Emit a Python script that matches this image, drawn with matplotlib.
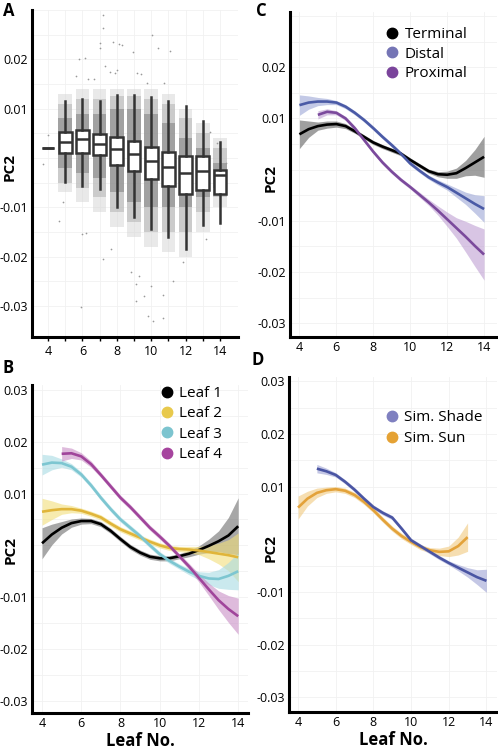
import matplotlib
matplotlib.use("Agg")
import matplotlib.pyplot as plt
from matplotlib.lines import Line2D

plt.rcParams['font.family'] = ['Open Sans', 'DejaVu Sans']

# ---- panel A: boxplots per leaf number ----
box_leaf = [4, 5, 6, 7, 8, 9, 10, 11, 12, 13, 14]
box_med = [0.0021, 0.0033, 0.0038, 0.0028, 0.0019, 0.0007, -0.0007, -0.0018, -0.0030, -0.0027, -0.0034]
box_q1 = [0.0021, 0.0009, 0.0011, 0.0005, -0.0014, -0.0026, -0.0043, -0.0056, -0.0073, -0.0065, -0.0073]
box_q3 = [0.0021, 0.0052, 0.0056, 0.0048, 0.0042, 0.0035, 0.0022, 0.0013, 0.0003, 0.0004, -0.0024]
box_wlo = [0.0021, -0.0049, -0.0056, -0.0063, -0.0100, -0.0120, -0.0144, -0.0160, -0.0184, -0.0136, -0.0132]
box_whi = [0.0021, 0.0115, 0.0119, 0.0115, 0.0127, 0.0128, 0.0123, 0.0116, 0.0106, 0.0075, 0.0032]

# extent of the jittered point cloud behind each box (outer, middle, dense core)
cloud_leaf = [5, 6, 7, 8, 9, 10, 11, 12, 13, 14]
cloud_top = [0.013, 0.014, 0.014, 0.014, 0.014, 0.014, 0.013, 0.010, 0.007, 0.004]
cloud_bot = [-0.007, -0.009, -0.011, -0.014, -0.016, -0.018, -0.019, -0.020, -0.015, -0.010]
mid_top = [0.011, 0.012, 0.012, 0.0125, 0.0125, 0.012, 0.011, 0.008, 0.005, 0.002]
mid_bot = [-0.005, -0.006, -0.008, -0.011, -0.013, -0.015, -0.015, -0.015, -0.011, -0.008]
core_top = [0.008, 0.009, 0.009, 0.010, 0.010, 0.009, 0.007, 0.004, 0.002, -0.001]
core_bot = [-0.002, -0.003, -0.004, -0.007, -0.009, -0.010, -0.010, -0.010, -0.008, -0.006]

# sparse points outside the cloud
out_x = [7.18, 7.2, 7.02, 7.05, 7.76, 8.1, 8.3, 6.15, 5.8, 8.95, 7.3, 7.6, 7.9, 8.0, 6.7, 6.3, 5.6,
         4.0, 3.7, 10.03, 10.4, 11.1, 9.2, 9.4, 9.74, 10.75, 13.4, 13.8, 14.35,
         4.66, 4.9, 5.9, 7.18, 8.8, 9.1, 9.1, 5.97, 6.2, 7.66,
         10.1, 9.6, 9.8, 10.7, 10.7, 11.28, 11.85, 13.2, 10.0, 9.3]
out_y = [0.029, 0.0263, 0.0233, 0.0222, 0.0235, 0.0231, 0.0229, 0.0203, 0.020, 0.0215, 0.0186, 0.0175, 0.0172, 0.0178, 0.016, 0.016, 0.0167,
         0.0046, -0.0013, 0.025, 0.0222, 0.0216, 0.0173, 0.0170, 0.0151, 0.0151, 0.0052, 0.003, -0.0011,
         -0.0127, -0.009, -0.0303, -0.0204, -0.0232, -0.0256, -0.029, -0.0154, -0.0152, -0.0185,
         -0.033, -0.028, -0.032, -0.0277, -0.0325, -0.0249, -0.0212, -0.0165, -0.026, -0.024]

# ---- panel B: smooths by leaf position ----
lx = [4, 4.5, 5, 5.5, 6, 6.5, 7, 7.5, 8, 8.5, 9, 9.5, 10, 10.5, 11, 11.5, 12, 12.5, 13, 13.5, 14]
lx5 = lx[2:]
leaf1 = [0.0004, 0.0021, 0.0034, 0.0043, 0.0047, 0.0047, 0.0041, 0.0028, 0.0012, -0.0003, -0.0014,
         -0.0022, -0.0025, -0.0025, -0.0021, -0.0016, -0.0009, -0.0001, 0.0008, 0.0019, 0.0037]
leaf1_se = [0.003, 0.002, 0.0012, 0.0008, 0.0006, 0.0005, 0.0005, 0.0005, 0.0005, 0.0005, 0.0005,
            0.0005, 0.0005, 0.0005, 0.0005, 0.0006, 0.0008, 0.0013, 0.002, 0.0035, 0.0055]
leaf2 = [0.0065, 0.0068, 0.0070, 0.0070, 0.0067, 0.0061, 0.0054, 0.0042, 0.0031, 0.0023, 0.0015,
         0.0007, 0.0000, -0.0005, -0.0007, -0.0008, -0.0010, -0.0013, -0.0016, -0.0019, -0.0023]
leaf2_se = [0.0026, 0.0018, 0.001, 0.0007, 0.0005, 0.0005, 0.0005, 0.0005, 0.0005, 0.0005, 0.0005,
            0.0005, 0.0005, 0.0005, 0.0005, 0.0006, 0.0008, 0.0013, 0.002, 0.003, 0.0047]
leaf3 = [0.0156, 0.0160, 0.0159, 0.0152, 0.0137, 0.0116, 0.0092, 0.0070, 0.0050, 0.0034, 0.0018,
         0.0000, -0.0017, -0.0030, -0.0041, -0.0051, -0.0059, -0.0064, -0.0065, -0.0059, -0.0050]
leaf3_se = [0.002, 0.0014, 0.0008, 0.0006, 0.0005, 0.0005, 0.0005, 0.0005, 0.0005, 0.0005, 0.0005,
            0.0005, 0.0005, 0.0005, 0.0005, 0.0006, 0.0008, 0.0012, 0.0018, 0.0026, 0.0036]
leaf4 = [0.0177, 0.0178, 0.0172, 0.0157, 0.0136, 0.0114, 0.0092, 0.0074, 0.0054, 0.0034,
         0.0017, -0.0001, -0.0021, -0.0041, -0.0063, -0.0085, -0.0106, -0.0123, -0.0137]
leaf4_se = [0.0014, 0.001, 0.0007, 0.0006, 0.0005, 0.0005, 0.0005, 0.0005, 0.0005, 0.0005,
            0.0005, 0.0005, 0.0005, 0.0006, 0.0008, 0.0012, 0.0018, 0.0026, 0.0035]

# ---- panel C: smooths by leaflet type ----
term = [0.0069, 0.0079, 0.0085, 0.0088, 0.0089, 0.0085, 0.0075, 0.0064, 0.0053, 0.0045, 0.0038,
        0.0031, 0.0019, 0.0008, -0.0003, -0.0009, -0.0010, -0.0007, 0.0003, 0.0014, 0.0025]
term_se = [0.0028, 0.0016, 0.0008, 0.0007, 0.0006, 0.0005, 0.0004, 0.0004, 0.0004, 0.0004, 0.0004,
           0.0004, 0.0004, 0.0004, 0.0004, 0.0005, 0.0007, 0.001, 0.0015, 0.0025, 0.004]
dist = [0.0126, 0.0131, 0.0133, 0.0133, 0.0131, 0.0123, 0.0111, 0.0097, 0.0081, 0.0064, 0.0048,
        0.0031, 0.0012, -0.0002, -0.0015, -0.0025, -0.0034, -0.0045, -0.0056, -0.0067, -0.0077]
dist_se = [0.002, 0.0013, 0.0008, 0.0006, 0.0004, 0.0004, 0.0004, 0.0004, 0.0004, 0.0004, 0.0004,
           0.0004, 0.0004, 0.0004, 0.0004, 0.0005, 0.0006, 0.0009, 0.0012, 0.0018, 0.0026]
prox = [0.0107, 0.0113, 0.0111, 0.0100, 0.0081, 0.0058, 0.0035, 0.0014, -0.0004, -0.0020,
        -0.0034, -0.0049, -0.0064, -0.0080, -0.0097, -0.0114, -0.0131, -0.0149, -0.0166]
prox_se = [0.0008, 0.0006, 0.0004, 0.0004, 0.0004, 0.0004, 0.0004, 0.0004, 0.0004, 0.0004,
           0.0004, 0.0005, 0.0006, 0.0009, 0.0014, 0.002, 0.003, 0.004, 0.005]

# ---- panel D: simulated shade vs sun ----
shade = [0.0134, 0.0129, 0.0122, 0.0109, 0.0094, 0.0077, 0.0061, 0.0050, 0.0041, 0.0020,
         -0.0002, -0.0013, -0.0024, -0.0035, -0.0045, -0.0054, -0.0063, -0.0072, -0.0079]
shade_se = [0.0008, 0.0006, 0.0004, 0.0004, 0.0004, 0.0004, 0.0004, 0.0004, 0.0004, 0.0004,
            0.0004, 0.0004, 0.0004, 0.0004, 0.0004, 0.0006, 0.0009, 0.0014, 0.0022]
lx13 = lx[:19]
sun = [0.0060, 0.0077, 0.0088, 0.0093, 0.0095, 0.0092, 0.0084, 0.0071, 0.0055, 0.0037, 0.0020,
       0.0006, -0.0005, -0.0015, -0.0021, -0.0024, -0.0023, -0.0013, 0.0004]
sun_se = [0.0022, 0.0014, 0.0009, 0.0006, 0.0005, 0.0005, 0.0005, 0.0005, 0.0005, 0.0005, 0.0005,
          0.0005, 0.0005, 0.0005, 0.0005, 0.0007, 0.001, 0.0017, 0.0027]

ytick_vals = [0.03, 0.02, 0.01, 0.0, -0.01, -0.02, -0.03]
ytick_labs = ['0.03', '0.02', '0.01', '', '-0.01', '-0.02', '-0.03']

fig = plt.figure(figsize=(4.98, 7.49), dpi=100)
axA = fig.add_axes([0.0643, 0.5501, 0.4137, 0.4366])
axC = fig.add_axes([0.5823, 0.5501, 0.4157, 0.4339])
axB = fig.add_axes([0.0643, 0.0481, 0.4337, 0.4379])
axD = fig.add_axes([0.5803, 0.0494, 0.4177, 0.4473])


def style(ax, ylim, xlim, labpos):
    ax.set_ylim(*ylim)
    ax.set_xlim(*xlim)
    ax.set_yticks(ytick_vals)
    ax.set_yticklabels(ytick_labs)
    ax.set_yticks([0.025, 0.015, 0.005, -0.005, -0.015, -0.025], minor=True)
    ax.grid(True, which='both', color='#f1f1f1', lw=0.6)
    ax.set_axisbelow(True)
    for s in ['top', 'right']:
        ax.spines[s].set_visible(False)
    for s in ['left', 'bottom']:
        ax.spines[s].set_linewidth(2.2)
        ax.spines[s].set_color('black')
    ax.tick_params(axis='both', which='both', length=0, labelsize=9, colors='black', pad=3)
    ax.set_ylabel('PC2', fontsize=11, fontweight='bold')
    ax.yaxis.set_label_coords(*labpos)


# panel A
style(axA, (-0.0363, 0.030), (3.07, 15.05), (-0.073, 0.52))
axA.set_yticklabels(['', '0.02', '0.01', '', '-0.01', '-0.02', '-0.03'])
axA.set_xticks(box_leaf)
axA.set_xticklabels(['4', '', '6', '', '8', '', '10', '', '12', '', '14'])
axA.tick_params(axis='x', length=3, width=1)
axA.set_xticks([], minor=True)
for top, bot, col, al in [(cloud_top, cloud_bot, '#d4d4d4', 0.5),
                          (mid_top, mid_bot, '#a8a8a8', 0.45),
                          (core_top, core_bot, '#6e6e6e', 0.45)]:
    axA.bar(cloud_leaf, [t - b for t, b in zip(top, bot)], bottom=bot,
            width=0.8, color=col, alpha=al, zorder=1, lw=0)
axA.scatter(out_x, out_y, s=1.5, color='#999999', zorder=1, linewidths=0)
stats = []
for i in range(len(box_leaf)):
    stats.append(dict(med=box_med[i], q1=box_q1[i], q3=box_q3[i],
                      whislo=box_wlo[i], whishi=box_whi[i], fliers=[]))
axA.bxp(stats, positions=box_leaf, widths=0.75, showcaps=False, showfliers=False, patch_artist=True,
        boxprops=dict(facecolor='white', edgecolor='#333333', linewidth=1.8),
        medianprops=dict(color='#333333', linewidth=1.8),
        whiskerprops=dict(color='#333333', linewidth=1.8), manage_ticks=False, zorder=3)


def smooth(ax, x, y, se, line, band, alpha=0.5):
    ax.fill_between(x, [a - b for a, b in zip(y, se)], [a + b for a, b in zip(y, se)],
                    color=band, alpha=alpha, lw=0, zorder=2)
    ax.plot(x, y, color=line, lw=1.9, zorder=3, solid_capstyle='butt')


# panel B
style(axB, (-0.0324, 0.031), (3.49, 14.5), (-0.065, 0.497))
axB.set_xticks([4, 6, 8, 10, 12, 14])
axB.set_xlabel('Leaf No.', fontsize=12, fontweight='bold', labelpad=1)
smooth(axB, lx, leaf1, leaf1_se, 'black', '#606060', 0.55)
smooth(axB, lx, leaf2, leaf2_se, '#e0b53a', '#f2df7a', 0.6)
smooth(axB, lx, leaf3, leaf3_se, '#7dc6d1', '#a8dbe3', 0.6)
smooth(axB, lx5, leaf4, leaf4_se, '#a0459b', '#c98ec6', 0.6)
hB = [Line2D([], [], marker='o', ls='', ms=7.5, color=c) for c in ['black', '#e8c94c', '#7cc4cf', '#a6449e']]
axB.legend(hB, ['Leaf 1', 'Leaf 2', 'Leaf 3', 'Leaf 4'], loc='upper left', bbox_to_anchor=(0.597, 0.997),
           frameon=False, fontsize=11, handlelength=0.8, handletextpad=0.4, labelspacing=0.35,
           borderpad=0, borderaxespad=0)

# panel C
style(axC, (-0.0327, 0.0308), (3.49, 14.7), (-0.058, 0.49))
axC.set_yticklabels(['', '0.02', '0.01', '', '-0.01', '-0.02', '-0.03'])
axC.set_xticks([4, 6, 8, 10, 12, 14])
smooth(axC, lx, term, term_se, 'black', '#606060', 0.6)
smooth(axC, lx, dist, dist_se, '#4a5aa6', '#9ba6d6', 0.6)
smooth(axC, lx5, prox, prox_se, '#7b4a9c', '#bf9fd3', 0.6)
hC = [Line2D([], [], marker='o', ls='', ms=7.5, color=c) for c in ['black', '#7575b5', '#7a449b']]
axC.legend(hC, ['Terminal', 'Distal', 'Proximal'], loc='upper left', bbox_to_anchor=(0.464, 0.954),
           frameon=False, fontsize=11, handlelength=0.8, handletextpad=0.4, labelspacing=0.3,
           borderpad=0, borderaxespad=0)

# panel D
style(axD, (-0.0328, 0.0308), (3.52, 14.56), (-0.053, 0.49))
axD.set_xticks([4, 6, 8, 10, 12, 14])
axD.set_xlabel('Leaf No.', fontsize=12, fontweight='bold', labelpad=1)
smooth(axD, lx13, sun, sun_se, '#e3a23a', '#f0c97e', 0.6)
smooth(axD, lx5, shade, shade_se, '#4a55a3', '#9ea3d4', 0.6)
hD = [Line2D([], [], marker='o', ls='', ms=7.5, color=c) for c in ['#7f80c0', '#e5a234']]
axD.legend(hD, ['Sim. Shade', 'Sim. Sun'], loc='upper left', bbox_to_anchor=(0.466, 0.901),
           frameon=False, fontsize=11, handlelength=0.8, handletextpad=0.4, labelspacing=0.4,
           borderpad=0, borderaxespad=0)

for lab, x, y in [('A', 0.006, 0.985), ('C', 0.514, 0.985), ('B', 0.006, 0.509), ('D', 0.506, 0.519)]:
    fig.text(x, y, lab, fontsize=12, fontweight='bold', ha='left', va='center')

fig.savefig('out.png', dpi=100)
